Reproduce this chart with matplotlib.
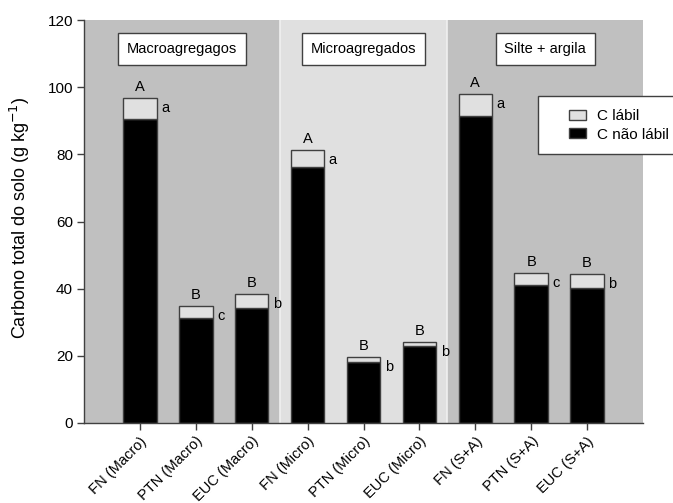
import numpy as np
import matplotlib
matplotlib.use('Agg')
import matplotlib.pyplot as plt
from matplotlib.patches import Patch, Rectangle

plt.rcParams.update({
    'font.family': 'Liberation Sans',
    'font.size': 10,
    'axes.edgecolor': '#404040',
    'axes.linewidth': 1.0,
    'xtick.color': '#404040',
    'ytick.color': '#404040',
    'xtick.labelcolor': 'black',
    'ytick.labelcolor': 'black',
    'xtick.labelsize': 10.5,
    'ytick.labelsize': 11,
})

# Dados: carbono total do solo por fração (g kg-1)
categorias = ['FN (Macro)', 'PTN (Macro)', 'EUC (Macro)',
              'FN (Micro)', 'PTN (Micro)', 'EUC (Micro)',
              'FN (S+A)', 'PTN (S+A)', 'EUC (S+A)']
c_total = [96.7, 34.8, 38.4, 81.3, 19.6, 24.0, 98.1, 44.7, 44.3]
c_nao_labil = [90.6, 31.3, 34.3, 76.3, 18.2, 22.8, 91.5, 41.2, 40.2]
letras_maiusc = ['A', 'B', 'B', 'A', 'B', 'B', 'A', 'B', 'B']
letras_minusc = ['a', 'c', 'b', 'a', 'b', 'b', 'a', 'c', 'b']
fracoes = ['Macroagregagos', 'Microagregados', 'Silte + argila']

COR_ESCURA = '#c0c0c0'
COR_CLARA = '#e0e0e0'
COR_BORDA = '#404040'

x = np.arange(1, len(categorias) + 1)
c_labil = np.array(c_total) - np.array(c_nao_labil)

W, H = 673, 503
fig = plt.figure(figsize=(W / 100, H / 100), dpi=100)
ax = fig.add_axes([84 / W, 1 - 423 / H, (643 - 84) / W, (423 - 20) / H])

# Faixas de fundo para cada fração
ax.axvspan(0, 3.5, color=COR_ESCURA, lw=0, zorder=0)
ax.axvspan(3.5, 6.5, color=COR_CLARA, lw=0, zorder=0)
ax.axvspan(6.5, 10, color=COR_ESCURA, lw=0, zorder=0)
for xv in (3.5, 6.5):
    ax.axvline(xv, color='#f0f0f0', lw=1.2, zorder=0.5)

largura = 0.6
ax.bar(x, c_nao_labil, largura, color='black', edgecolor=COR_BORDA, lw=1, zorder=2,
       label='C não lábil')
ax.bar(x, c_labil, largura, bottom=c_nao_labil, color=COR_CLARA, edgecolor=COR_BORDA,
       lw=1, zorder=2, label='C lábil')

for xi, tot, L, l in zip(x, c_total, letras_maiusc, letras_minusc):
    ax.text(xi, tot + 1.2, L, ha='center', va='bottom', fontsize=10.5)
    ax.text(xi + largura / 2 + 0.08, tot - 3.0, l, ha='left', va='center', fontsize=10.5)

for xc, nome in zip([1.75, 5.0, 8.25], fracoes):
    ax.text(xc, 111.3, nome, ha='center', va='center', fontsize=10.5,
            bbox=dict(boxstyle='square,pad=0.6', fc='white', ec=COR_BORDA, lw=1))

ax.set_xlim(0, 10)
ax.set_ylim(0, 120)
ax.set_yticks(range(0, 121, 20))
ax.set_xticks(x)
ax.set_xticklabels(categorias, rotation=45, ha='right', va='top', rotation_mode='anchor')
ax.tick_params(axis='both', direction='out', length=5, width=1, pad=3)
ax.spines['top'].set_visible(False)
ax.spines['right'].set_visible(False)
ax.set_ylabel('Carbono total do solo (g kg$^{-1}$)', fontsize=13)
ax.yaxis.set_label_coords(-0.093, 0.51)

# Legenda: moldura desenhada à parte, passando da borda direita
fig.patches.append(Rectangle((538 / W, 1 - 154 / H), 150 / W, 58 / H,
                             transform=fig.transFigure, fc='white', ec=COR_BORDA,
                             lw=1, zorder=3))
handles = [Patch(fc=COR_CLARA, ec=COR_BORDA, lw=1, label='C lábil'),
           Patch(fc='black', ec=COR_BORDA, lw=1, label='C não lábil')]
leg = fig.legend(handles=handles, loc='upper left', bbox_to_anchor=(569 / W, 1 - 109 / H),
                 borderaxespad=0, borderpad=0, frameon=False,
                 handlelength=1.1, handleheight=0.65, handletextpad=0.75,
                 labelspacing=0.3, fontsize=11)
leg.set_zorder(4)

fig.savefig('out.png', dpi=100)
